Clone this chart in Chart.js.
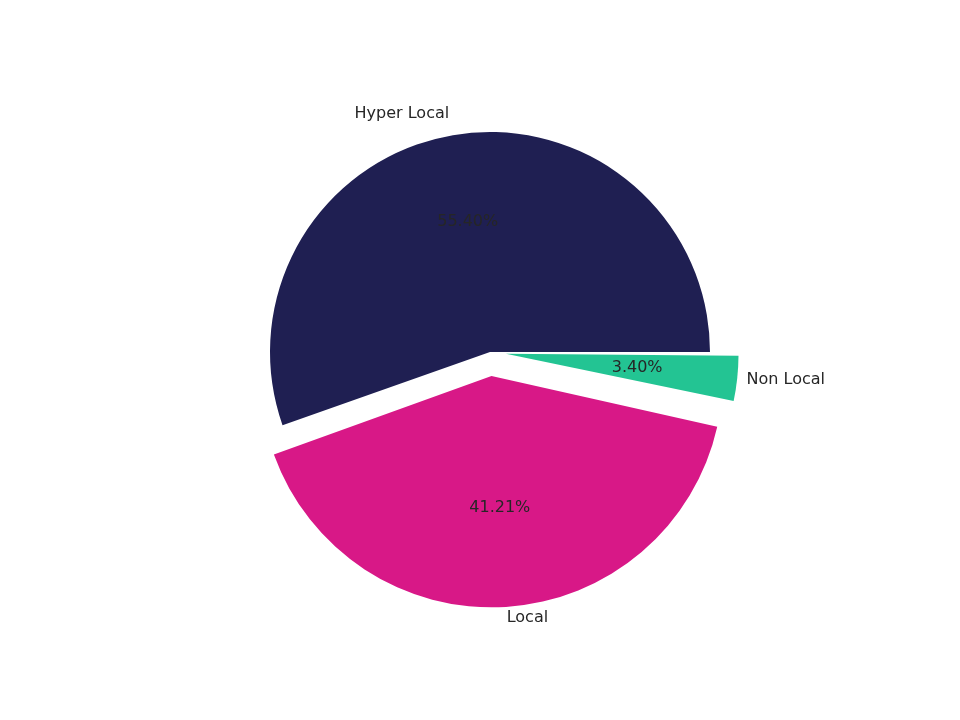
<!DOCTYPE html>
<html><head><meta charset="utf-8">
<script src="https://cdn.jsdelivr.net/npm/chart.js@4"></script>
<style>body{margin:0;background:#fff}#wrap{width:960px;height:720px}</style>
</head><body><div id="wrap"><canvas id="c"></canvas></div>
<script>
// clockwise from 3 o'clock (matplotlib draws counter-clockwise)
let labels = ["Non Local", "Local", "Hyper Local"];
let shares = [3.40, 41.21, 55.40];
let colors = ["#23c493", "#d81887", "#1f1f52"];
let offsets = [64, 96, 0]; // chart.js moves an arc by offset / 4

let pieLabels = {
    id: "pieLabels",
    afterDatasetsDraw(chart) {
        let ctx = chart.ctx;
        let arcs = chart.getDatasetMeta(0).data;
        ctx.save();
        ctx.font = "16px 'DejaVu Sans'";
        ctx.fillStyle = "#262626";
        ctx.textBaseline = "middle";
        arcs.forEach(function (arc, i) {
            let mid = (arc.startAngle + arc.endAngle) / 2;
            let off = offsets[i] / 4;
            let cx = arc.x + Math.cos(mid) * off;
            let cy = arc.y + Math.sin(mid) * off;
            let r = arc.outerRadius;
            ctx.textAlign = "center";
            ctx.fillText(shares[i].toFixed(2) + "%", cx + Math.cos(mid) * r * 0.6, cy + Math.sin(mid) * r * 0.6);
            ctx.textAlign = Math.cos(mid) < 0 ? "right" : "left";
            ctx.fillText(labels[i], cx + Math.cos(mid) * r * 1.1, cy + Math.sin(mid) * r * 1.1);
        });
        ctx.restore();
    }
};

new Chart(document.getElementById("c"), {
    type: "pie",
    data: {
        labels: labels,
        datasets: [{
            data: shares,
            backgroundColor: colors,
            borderWidth: 0,
            offset: offsets,
            radius: 220
        }]
    },
    options: {
        responsive: true,
        maintainAspectRatio: false,
        animation: false,
        rotation: 90,
        layout: { padding: { left: 20, bottom: 16 } },
        plugins: { legend: { display: false }, tooltip: { enabled: false } }
    },
    plugins: [pieLabels]
});
</script></body></html>
